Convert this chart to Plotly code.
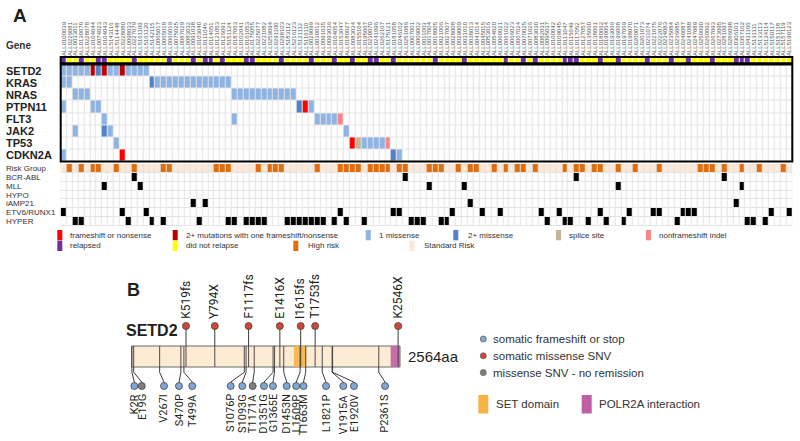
import re
import plotly.graph_objects as go

W, H = 800, 441
def px(x): return x / W
def py(y): return 1 - y / H

# ---------------- Panel A data ----------------
sample_ids = [
    "ALL0100039","ALL0229081","ALL0033011","ALL0130070","ALL0228078","ALL0104044","ALL0074023","ALL0104043",
    "ALL5143116","ALL5114448","ALL0228080","ALL0098033","ALL0227079","ALL5161109","ALL5161120","ALL5142115",
    "ALL0065017","ALL0065018","ALL0066019","ALL0075025","ALL0087029","ALL0083032","ALL0091038","ALL0103040",
    "ALL0111046","ALL0114051","ALL0121053","ALL0126091","ALL5151124","ALL0187063","ALL0102041","ALL0161053",
    "ALL0175055","ALL0225077","ALL0231082","ALL0259094","ALL0291100","ALL0298103","ALL5183112","ALL5216123",
    "ALL5121112","ALL5116110","ALL0029099","ALL0030012","ALL0091035","ALL0093036","ALL0104054","ALL0153047",
    "ALL0180027","ALL0083034","ALL0155104","ALL0195067","ALL0230070","ALL0241096","ALL0262107","ALL5175121",
    "ALL0181058","ALL0246102","ALL0251086","ALL0007001","ALL0009002","ALL0011003","ALL0017004","ALL0018005",
    "ALL0021006","ALL0027007","ALL0028008","ALL0029009","ALL0031010","ALL0038013","ALL0041014","ALL0045015",
    "ALL0053016","ALL0054020","ALL0060021","ALL0061022","ALL0066023","ALL0067024","ALL0070025","ALL0071026",
    "ALL0083030","ALL0082031","ALL0095037","ALL0100042","ALL0109045","ALL0113047","ALL0115049","ALL0117052",
    "ALL0127057","ALL0135060","ALL0138061","ALL0180062","ALL0190064","ALL0193066","ALL0196068","ALL0197069",
    "ALL0198070","ALL0200071","ALL0201073","ALL0211074","ALL0221075","ALL0222076","ALL0234083","ALL0235084",
    "ALL0236085","ALL0240087","ALL0241088","ALL0247089","ALL0250090","ALL0260092","ALL0267093","ALL0273095",
    "ALL0281097","ALL0286098","ALL0306101","ALL0357102","ALL0431106","ALL5131111","ALL5133113","ALL5134114",
    "ALL5150117","ALL5151118","ALL5157119","ALL5190123",
]
n_cols = len(sample_ids)

relapsed_cols = [0,3,6,7,12,18,22,24,25,27,31,32,37,42,46,49,52,53,56,63,68,75,78,80,85,86,87,91,94,99,
                 103,106,110,114,115,116]

genes = ["SETD2", "KRAS", "NRAS", "PTPN11", "FLT3", "JAK2", "TP53", "CDKN2A"]
# mutation type codes: 1 frameshift/nonsense, 2 2+ with one fs, 3 1 missense, 4 2+ missense, 5 splice, 6 nf indel
setd2_cols  = [0,1,2,3,4,5,6,7,8,9,10,11,12,13,14]
setd2_types = [3,3,3,3,3,2,4,2,3,3,2,3,3,3,3]
kras_cols   = [0,1,15,16,17,18,19,20,21,22,23,24,25,26,27,28]
kras_types  = [3,3,4,3,3,3,3,3,3,3,3,3,3,3,3,3]
nras_cols   = [2,3,4,29,30,31,32,33,34,35,36,37,38,39]
nras_types  = [3,3,3,3,3,3,3,3,3,3,3,3,3,3]
ptpn11_cols = [0,5,6,40,41,42]
ptpn11_types= [3,3,3,4,1,3]
flt3_cols   = [7,29,43,44,45,46,47]
flt3_types  = [3,3,3,3,3,3,6]
jak2_cols   = [2,7,8,48]
jak2_types  = [3,4,3,3]
tp53_cols   = [9,49,50,51,52,53,54,55]
tp53_types  = [3,1,5,3,3,3,3,6]
cdkn2a_cols = [0,10,56,57]
cdkn2a_types= [3,1,4,3]

mutation_labels = ["frameshift or nonsense", "2+ mutations with one frameshift/nonsense",
                   "1 missense", "2+ missense", "splice site", "nonframeshift indel"]
mutation_colors = ["#ffffff", "#ff0000", "#c00000", "#8fb4e3", "#5382c9", "#c4b493", "#f8868a"]

clinical_rows = ["Risk Group", "BCR-ABL", "MLL", "HYPO", "iAMP21", "ETV6/RUNX1", "HYPER"]
high_risk_cols = [1,3,5,6,9,12,17,18,26,27,28,33,35,36,37,43,47,48,49,50,52,53,54,55,57,58,62,63,64,67,
                  69,70,73,75,77,78,80,85,87,88,90,91,94,97,101,108,109,110,112,115,118,122]
bcr_abl_cols = [12,58,87,112]
mll_cols     = [7,13,62,68,94,115]
hypo_cols    = []
iamp21_cols  = [22,24,69,114]
etv6_cols    = [0,10,14,47,56,57,66,71,74,81,84,91,96,100,101,105,106,107,120,123]
hyper_cols   = [2,3,11,15,17,23,28,29,31,32,33,34,38,39,40,41,42,43,44,46,48,51,59,60,61,64,65,82,85,86,
                89,92,95,104,116,117,119]

# ---------------- Panel B data ----------------
protein_name = "SETD2"
protein_length = 2564
domain_names = ["SET domain", "POLR2A interaction"]
domain_start = [1550, 2475]
domain_end   = [1667, 2564]
domain_colors = ["#f7b445", "#c15fa6"]

top_mutations = ["K519fs", "Y794X", "F1117fs", "E1416X", "I1615fs", "T1753fs", "K2546X"]
top_classes = [1, 1, 1, 1, 1, 1, 1]
bottom_mutations = ["K2R", "E19G", "V267I", "S470P", "T499A", "S1076P", "S1093G", "T1171A", "D1351G",
                    "G1365E", "D1453N", "L1609P", "T1663M", "L1821P", "V1915A", "E1920V", "P2361S"]
bottom_classes = [0, 2, 0, 0, 0, 0, 0, 2, 0, 0, 0, 0, 0, 0, 0, 0, 0]
legend_classes = ["somatic frameshift or stop", "somatic missense SNV", "missense SNV - no remission"]
class_colors = ["#7fa7d8", "#d0463b", "#7f7f7f"]
# label placement (spread-out anchor positions in residue units)
bottom_label_pos = [25, 96, 309, 452, 579, 946, 1057, 1156, 1264, 1350, 1481, 1572, 1642, 1857, 2022, 2124, 2421]

def aa_pos(label):
    return int(re.search(r"\d+", label).group())

# ---------------- build matrices ----------------
def discrete_scale(colors):
    n = len(colors)
    cs = []
    for i, c in enumerate(colors):
        cs.append([i / n, c]); cs.append([(i + 1) / n, c])
    return cs

header_z = [[1 if c in relapsed_cols else 0 for c in range(n_cols)]]

gene_data = [(setd2_cols, setd2_types), (kras_cols, kras_types), (nras_cols, nras_types),
             (ptpn11_cols, ptpn11_types), (flt3_cols, flt3_types), (jak2_cols, jak2_types),
             (tp53_cols, tp53_types), (cdkn2a_cols, cdkn2a_types)]
gene_z = []
for cols, types in gene_data:
    row = [0] * n_cols
    for c, t in zip(cols, types):
        row[c] = t
    gene_z.append(row)

clin_z = [[2 if c in high_risk_cols else 1 for c in range(n_cols)]]
for cols in [bcr_abl_cols, mll_cols, hypo_cols, iamp21_cols, etv6_cols, hyper_cols]:
    clin_z.append([3 if c in cols else 0 for c in range(n_cols)])

fig = go.Figure()
xs = list(range(n_cols))
fig.add_trace(go.Heatmap(z=header_z, x=xs, y=[0], xaxis="x", yaxis="y",
                         colorscale=discrete_scale(["#ffff00", "#7030a0"]), zmin=-0.5, zmax=1.5,
                         showscale=False, xgap=1, ygap=0, hoverinfo="skip"))
fig.add_trace(go.Heatmap(z=gene_z, x=xs, y=list(range(len(genes))), xaxis="x", yaxis="y2",
                         colorscale=discrete_scale(mutation_colors), zmin=-0.5, zmax=len(mutation_colors) - 0.5,
                         showscale=False, xgap=1, ygap=1, hoverinfo="skip"))
fig.add_trace(go.Heatmap(z=clin_z, x=xs, y=list(range(len(clinical_rows))), xaxis="x", yaxis="y3",
                         colorscale=discrete_scale(["#ffffff", "#fde7d6", "#e46c0a", "#000000"]),
                         zmin=-0.5, zmax=3.5, showscale=False, xgap=1, ygap=1, hoverinfo="skip"))

# ---------------- Panel B traces ----------------
L = protein_length
fig.add_trace(go.Scatter(x=[0, L, L, 0, 0], y=[0, 0, 1, 1, 0], fill="toself", fillcolor="#fdebd3",
                         mode="lines", line=dict(color="#6b6b6b", width=1), xaxis="x2", yaxis="y4",
                         hoverinfo="skip", showlegend=False))
for s, e, col in zip(domain_start, domain_end, domain_colors):
    fig.add_trace(go.Scatter(x=[s, e, e, s, s], y=[0, 0, 1, 1, 0], fill="toself", fillcolor=col,
                             mode="lines", line=dict(color=col, width=0), opacity=0.9,
                             xaxis="x2", yaxis="y4", hoverinfo="skip", showlegend=False))
# thin lines inside bar at each mutation
lx, ly = [], []
for lab in top_mutations + bottom_mutations:
    p = aa_pos(lab)
    lx += [p, p, None]; ly += [0, 1, None]
fig.add_trace(go.Scatter(x=lx, y=ly, mode="lines", line=dict(color="#3b3b3b", width=0.9),
                         xaxis="x2", yaxis="y4", hoverinfo="skip", showlegend=False))
# stalks
sx, sy = [], []
for lab in top_mutations:
    p = aa_pos(lab)
    sx += [p, p, None]; sy += [1, 1.95, None]
for lab, cx in zip(bottom_mutations, bottom_label_pos):
    p = aa_pos(lab)
    sx += [p, p, cx, cx, None]; sy += [0, -0.25, -0.72, -0.905, None]
fig.add_trace(go.Scatter(x=sx, y=sy, mode="lines", line=dict(color="#3b3b3b", width=1),
                         xaxis="x2", yaxis="y4", hoverinfo="skip", showlegend=False))
# circles
fig.add_trace(go.Scatter(x=[aa_pos(l) for l in top_mutations], y=[1.95] * len(top_mutations),
                         mode="markers", marker=dict(size=7, color=[class_colors[c] for c in top_classes],
                                                     line=dict(color="#444", width=0.8)),
                         xaxis="x2", yaxis="y4", hoverinfo="skip", showlegend=False))
fig.add_trace(go.Scatter(x=bottom_label_pos, y=[-0.905] * len(bottom_mutations),
                         mode="markers", marker=dict(size=7, color=[class_colors[c] for c in bottom_classes],
                                                     line=dict(color="#444", width=0.8)),
                         xaxis="x2", yaxis="y4", hoverinfo="skip", showlegend=False))

annotations = []
top_font = dict(family="Roboto, Liberation Sans", size=12, color="#231f20")
bot_font = dict(family="Roboto, Liberation Sans", size=11, color="#231f20")
for lab in top_mutations:
    annotations.append(dict(x=aa_pos(lab), y=2.2, xref="x2", yref="y4", text=lab, textangle=-90,
                            showarrow=False, xanchor="center", yanchor="bottom", font=top_font))
for lab, cx in zip(bottom_mutations, bottom_label_pos):
    annotations.append(dict(x=cx, y=-1.2, xref="x2", yref="y4", text=lab, textangle=-90,
                            showarrow=False, xanchor="center", yanchor="top", font=bot_font))
annotations.append(dict(x=L, y=0.5, xref="x2", yref="y4", text=f"{L}aa", showarrow=False,
                        xanchor="left", yanchor="middle", xshift=6,
                        font=dict(family="Liberation Sans", size=15, color="#231f20")))
annotations.append(dict(x=px(124), y=py(330), xref="paper", yref="paper", text=f"<b>{protein_name}</b>",
                        showarrow=False, xanchor="left", yanchor="middle",
                        font=dict(family="Liberation Sans", size=16, color="#231f20")))
annotations.append(dict(x=px(125), y=py(290), xref="paper", yref="paper", text="<b>B</b>",
                        showarrow=False, xanchor="left", yanchor="middle",
                        font=dict(family="Liberation Sans", size=18, color="#231f20")))
annotations.append(dict(x=px(11), y=py(16), xref="paper", yref="paper", text="<b>A</b>",
                        showarrow=False, xanchor="left", yanchor="middle",
                        font=dict(family="Liberation Sans", size=19, color="#231f20")))
annotations.append(dict(x=px(4), y=py(45), xref="paper", yref="paper", text="<b>Gene</b>",
                        showarrow=False, xanchor="left", yanchor="middle",
                        font=dict(family="Liberation Sans", size=10, color="#333")))
for i, g in enumerate(genes):
    annotations.append(dict(x=px(4), y=i, xref="paper", yref="y2", text=f"<b>{g}</b>",
                            showarrow=False, xanchor="left", yanchor="middle",
                            font=dict(family="Liberation Sans", size=11, color="#222")))
for i, r in enumerate(clinical_rows):
    annotations.append(dict(x=px(4), y=i, xref="paper", yref="y3", text=r,
                            showarrow=False, xanchor="left", yanchor="middle",
                            font=dict(family="Liberation Sans", size=8, color="#333")))

shapes = []
# grid underlay
for yr in ["y2 domain", "y3 domain"]:
    shapes.append(dict(type="rect", xref="x domain", yref=yr, x0=0, x1=1, y0=0, y1=1,
                       fillcolor="#e4e4e4", line=dict(width=0), layer="below"))
# borders
for yr in ["y domain", "y2 domain"]:
    shapes.append(dict(type="rect", xref="x domain", yref=yr, x0=0, x1=1, y0=0, y1=1,
                       line=dict(color="#000", width=2), fillcolor="rgba(0,0,0,0)"))

# Panel A legend
leg_font = dict(family="Liberation Sans", size=8, color="#333")
legA = [
    (57.3, 230, mutation_colors[1], mutation_labels[0], 68.3),
    (172.7, 230, mutation_colors[2], mutation_labels[1], 184.3),
    (365.7, 230, mutation_colors[3], mutation_labels[2], 377.3),
    (453.3, 230, mutation_colors[4], mutation_labels[3], 465.7),
    (556.0, 230, mutation_colors[5], mutation_labels[4], 567.0),
    (646.0, 230, mutation_colors[6], mutation_labels[5], 657.0),
    (57.3, 240.7, "#7030a0", "relapsed", 68.3),
    (172.7, 240.7, "#ffff00", "did not relapse", 184.3),
    (293.3, 240.7, "#e46c0a", "High risk", 305.7),
    (409.3, 240.7, "#fde7d6", "Standard Risk", 421.7),
]
for x0, y0, col, txt, tx in legA:
    shapes.append(dict(type="rect", xref="paper", yref="paper", x0=px(x0), x1=px(x0 + 5),
                       y0=py(y0 + 10.3), y1=py(y0), fillcolor=col, line=dict(width=0)))
    annotations.append(dict(x=px(tx), y=py(y0 + 5.2), xref="paper", yref="paper", text=txt,
                            showarrow=False, xanchor="left", yanchor="middle", font=leg_font))

# Panel B legend
legB_font = dict(family="Liberation Sans", size=11.5, color="#333")
for i, (name, col) in enumerate(zip(legend_classes, class_colors)):
    yy = 339 + i * 16.8
    shapes.append(dict(type="circle", xref="paper", yref="paper", x0=px(480.3), x1=px(486.3),
                       y0=py(yy + 3), y1=py(yy - 3), fillcolor=col, line=dict(color="#555", width=0.7)))
    annotations.append(dict(x=px(491), y=py(yy), xref="paper", yref="paper", text=name,
                            showarrow=False, xanchor="left", yanchor="middle", font=legB_font))
for (x0, tx), name, col in zip([(478.3, 494), (581.7, 597)], domain_names, domain_colors):
    shapes.append(dict(type="rect", xref="paper", yref="paper", x0=px(x0), x1=px(x0 + 10),
                       y0=py(413.5), y1=py(395), fillcolor=col, line=dict(width=0)))
    annotations.append(dict(x=px(tx), y=py(404), xref="paper", yref="paper", text=name,
                            showarrow=False, xanchor="left", yanchor="middle",
                            font=dict(family="Liberation Sans", size=11.5, color="#333")))

# axes geometry
cell_w = 5.9
grid_x0 = 60.7
grid_x1 = grid_x0 + cell_w * n_cols
s = (400 - 131.7) / L

fig.update_layout(
    width=W, height=H, margin=dict(l=0, r=0, t=0, b=0),
    paper_bgcolor="white", plot_bgcolor="white", showlegend=False,
    xaxis=dict(domain=[px(grid_x0), px(grid_x1)], range=[-0.5, n_cols - 0.5], anchor="y", side="top",
               tickmode="array", tickvals=xs, ticktext=sample_ids, tickangle=-90,
               tickfont=dict(family="Liberation Sans", size=6, color="#555"),
               showgrid=False, zeroline=False, ticks="", showline=False, fixedrange=True),
    yaxis=dict(domain=[py(63.3), py(57)], range=[-0.5, 0.5], anchor="x", visible=False),
    yaxis2=dict(domain=[py(161.5), py(64.5)], range=[len(genes) - 0.5, -0.5], anchor="x", visible=False),
    yaxis3=dict(domain=[py(226), py(164)], range=[len(clinical_rows) - 0.5, -0.5], anchor="x", visible=False),
    xaxis2=dict(domain=[0, 1], range=[-131.7 / s, (800 - 131.7) / s], anchor="y4", visible=False),
    yaxis4=dict(domain=[0, py(260)], range=[(367 - 441) / 21, (367 - 260) / 21], anchor="x2", visible=False),
    annotations=annotations, shapes=shapes,
)

fig.write_html("out.html", config={"displayModeBar": False, "staticPlot": True},
               post_script="document.body.style.margin='0';document.body.style.padding='0';"
                           "document.documentElement.style.overflow='hidden';")
